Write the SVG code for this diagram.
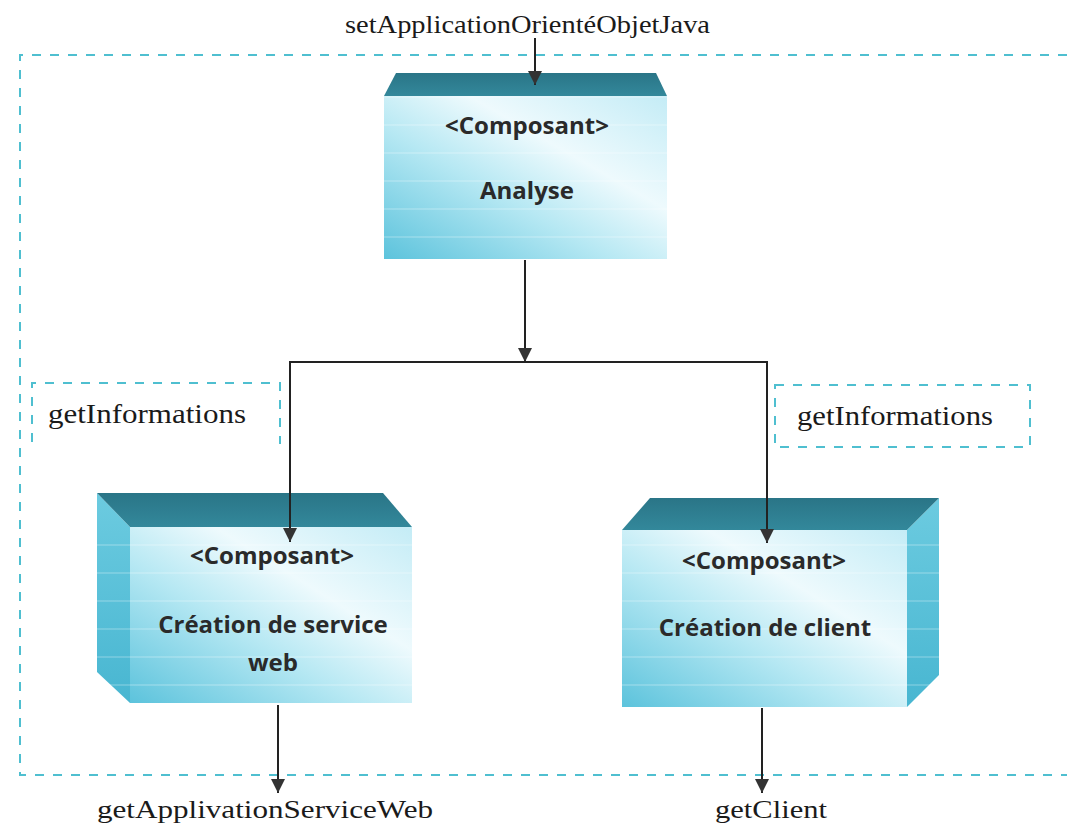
<svg xmlns="http://www.w3.org/2000/svg" width="1067" height="827" viewBox="0 0 1067 827">
  <defs>
    <style>
      .frame { fill: none; stroke: #4fbfd0; stroke-width: 2; stroke-dasharray: 9 9; }
      .wire { fill: none; stroke: #222; stroke-width: 2; }
      .lbl { font-family: "Liberation Serif", "Times New Roman", serif; fill: #1a1a1a; }
      .cmp { font-family: "Open Sans", "Noto Sans", sans-serif; font-weight: 700; font-size: 24px; fill: #2a2a2a; text-anchor: middle; }
      .topface { fill: url(#gTop); }
      .front { fill: url(#gFront); }
      .side { fill: url(#gSide); }
      .streaks { fill: url(#pStreak); }
    </style>
    <linearGradient id="gTop" x1="0" y1="0" x2="0" y2="1">
      <stop offset="0" stop-color="#2a7587"/>
      <stop offset="1" stop-color="#33889b"/>
    </linearGradient>
    <linearGradient id="gFront" x1="0" y1="1" x2="1" y2="0">
      <stop offset="0" stop-color="#5cc3dc"/>
      <stop offset="0.4" stop-color="#b6e8f3"/>
      <stop offset="0.65" stop-color="#eefafd"/>
      <stop offset="1" stop-color="#c4ecf6"/>
    </linearGradient>
    <linearGradient id="gSide" x1="0" y1="0" x2="0" y2="1">
      <stop offset="0" stop-color="#6ccbe0"/>
      <stop offset="1" stop-color="#48b6d1"/>
    </linearGradient>
    <pattern id="pStreak" width="40" height="28" patternUnits="userSpaceOnUse">
      <rect x="0" y="12" width="40" height="2" fill="#ffffff" opacity="0.18"/>
    </pattern>
    <marker id="arrow" markerUnits="userSpaceOnUse" markerWidth="14" markerHeight="14" refX="14" refY="7" orient="auto">
      <path d="M0,0 L14,7 L0,14 z" fill="#333"/>
    </marker>
  </defs>

  <rect width="1067" height="827" fill="#ffffff"/>

  <!-- boundary of the system and interface boxes -->
  <g id="boundary">
    <path class="frame" d="M1067,55 H20 V775 H1067"/>
    <path class="frame" d="M32,442 V383 H280 V444"/>
    <rect class="frame" x="775" y="385" width="255" height="62"/>
  </g>

  <!-- component: Analyse -->
  <g id="analyse">
    <polygon class="topface" points="396,73 656,73 667,96 384,96"/>
    <rect class="front" x="384" y="96" width="283" height="163"/>
    <rect class="streaks" x="384" y="96" width="283" height="163"/>
    <text class="cmp" x="527" y="134">&lt;Composant&gt;</text>
    <text class="cmp" x="527" y="199">Analyse</text>
  </g>

  <!-- component: Création de service web -->
  <g id="service-web">
    <polygon class="side" points="97,493 130,527 130,703 97,672"/>
    <polygon class="topface" points="97,493 383,493 412,527 130,527"/>
    <rect class="front" x="130" y="527" width="282" height="176"/>
    <rect class="streaks" x="97" y="527" width="315" height="176"/>
    <text class="cmp" x="272" y="564">&lt;Composant&gt;</text>
    <text class="cmp" x="273" y="633">Création de service</text>
    <text class="cmp" x="273" y="671">web</text>
  </g>

  <!-- component: Création de client -->
  <g id="client">
    <polygon class="side" points="907,530 939,498 939,675 907,707"/>
    <polygon class="topface" points="650,498 939,498 907,530 622,530"/>
    <rect class="front" x="622" y="530" width="285" height="177"/>
    <rect class="streaks" x="622" y="530" width="317" height="177"/>
    <text class="cmp" x="764" y="569">&lt;Composant&gt;</text>
    <text class="cmp" x="765" y="636">Création de client</text>
  </g>

  <!-- interface labels -->
  <g id="labels">
    <text class="lbl" x="345" y="33" font-size="25" textLength="365" lengthAdjust="spacingAndGlyphs">setApplicationOrientéObjetJava</text>
    <text class="lbl" x="48" y="423" font-size="28" textLength="198" lengthAdjust="spacingAndGlyphs">getInformations</text>
    <text class="lbl" x="797" y="425" font-size="28" textLength="196" lengthAdjust="spacingAndGlyphs">getInformations</text>
    <text class="lbl" x="97" y="818" font-size="26" textLength="336" lengthAdjust="spacingAndGlyphs">getApplivationServiceWeb</text>
    <text class="lbl" x="715" y="818" font-size="26" textLength="112" lengthAdjust="spacingAndGlyphs">getClient</text>
  </g>

  <!-- connectors -->
  <g id="connectors">
    <line class="wire" x1="535" y1="38" x2="535" y2="85" marker-end="url(#arrow)"/>
    <line class="wire" x1="525" y1="260" x2="525" y2="362" marker-end="url(#arrow)"/>
    <line class="wire" x1="289" y1="362" x2="768" y2="362"/>
    <line class="wire" x1="290" y1="362" x2="290" y2="542" marker-end="url(#arrow)"/>
    <line class="wire" x1="767" y1="362" x2="767" y2="543" marker-end="url(#arrow)"/>
    <line class="wire" x1="278" y1="705" x2="278" y2="793" marker-end="url(#arrow)"/>
    <line class="wire" x1="762" y1="708" x2="762" y2="793" marker-end="url(#arrow)"/>
  </g>
</svg>
